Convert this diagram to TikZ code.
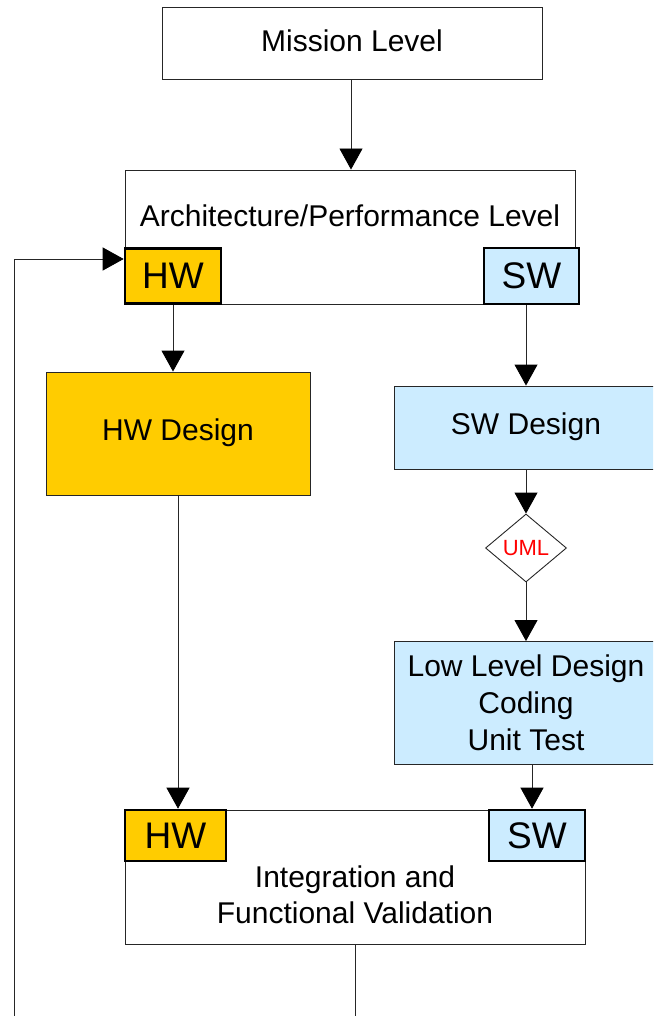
\documentclass[tikz,border=0pt]{standalone}
\usepackage{fontspec}
\setmainfont{Liberation Sans}
\usetikzlibrary{arrows.meta,shapes.geometric}
\definecolor{hworange}{HTML}{FFCC00}
\definecolor{swblue}{HTML}{CCECFF}
\tikzset{
  box/.style={draw=black!85, line width=0.9pt, rectangle, inner sep=0pt},
  tag/.style={draw=black, line width=2.6pt, rectangle, inner sep=0pt,
    font=\fontsize{37}{40}\selectfont},
  txt/.style={font=\fontsize{30}{37}\selectfont, align=center, inner sep=0pt},
  conn/.style={draw=black!85, line width=0.9pt, -{Triangle[length=21pt,width=23pt,fill=black,color=black]}},
  plain/.style={draw=black!85, line width=0.9pt},
}
\begin{document}
\begin{tikzpicture}[x=1pt,y=-1pt]
\useasboundingbox (0,0) rectangle (653,1016);
\clip (0,0) rectangle (653,1016);
% Mission
\node[box, minimum width=380pt, minimum height=72pt] (mission) at (352,43) {};
\node[txt] (missiontext) at (352,41) {Mission Level};
% Architecture
\node[box, minimum width=450pt, minimum height=134pt] (arch) at (350,237) {};
\node[txt] (archtext) at (350,216) {Architecture/Performance Level};
\node[tag, fill=hworange, minimum width=96pt, minimum height=55pt] (hwa) at (173,276) {HW};
\node[tag, fill=swblue, minimum width=95pt, minimum height=56pt] (swa) at (531.5,276) {SW};
% HW design
\node[box, fill=hworange, minimum width=264pt, minimum height=123pt] (hwd) at (178,433.5) {};
\node[txt] (hwdtext) at (178,433) {HW Design};
% SW design
\node[box, fill=swblue, minimum width=264pt, minimum height=83pt] (swd) at (526,427.5) {};
\node[txt] (swdtext) at (526,427) {SW Design};
% UML diamond
\node[draw=black!85, line width=0.9pt, diamond, minimum width=81pt, minimum height=68pt, inner sep=0pt] (uml) at (526,548) {};
\node[inner sep=0pt, font=\fontsize{22}{26}\selectfont, text=red] (umltext) at (526,548) {UML};
% Low level design
\node[box, fill=swblue, minimum width=264pt, minimum height=123pt] (lld) at (526,703) {};
\node[txt] (lldtext) at (526,703) {Low Level Design\\Coding\\Unit Test};
% Integration
\node[box, minimum width=460pt, minimum height=134pt] (integ) at (355,877) {};
\node[txt, font=\fontsize{30}{36}\selectfont] (integtext) at (355,895) {Integration and\\Functional Validation};
\node[tag, fill=hworange, minimum width=101pt, minimum height=51pt] (hwi) at (175.5,835.5) {HW};
\node[tag, fill=swblue, minimum width=96pt, minimum height=51pt] (swi) at (537,835.5) {SW};
% connectors
\draw[conn] (mission.south -| 351,0) -- (arch.north -| 351,0);
\draw[conn] (hwa.south) -- (hwd.north -| hwa.south);
\draw[conn] (swa.south -| 526,0) -- (swd.north);
\draw[conn] (swd.south) -- (uml.north);
\draw[conn] (uml.south) -- (lld.north);
\draw[conn] (lld.south -| 532,0) -- (swi.north -| 532,0);
\draw[conn] (hwd.south) -- (hwi.north -| hwd.south);
\coordinate (fbstart) at (14,1016);
\coordinate (intend) at (355,1016);
\draw[conn] (fbstart) -- (14,259) -- (hwa.west |- 0,259);
\draw[plain] (integ.south) -- (intend);
\end{tikzpicture}
\end{document}
